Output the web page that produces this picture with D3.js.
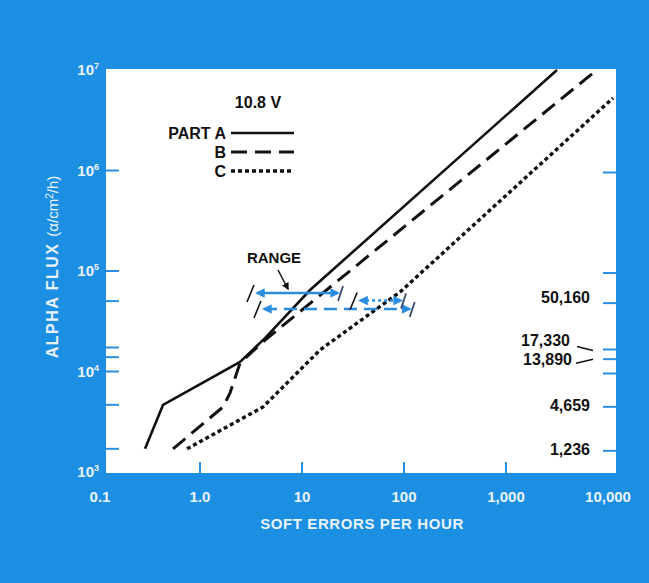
<!DOCTYPE html>
<html>
<head>
<meta charset="utf-8">
<script src="https://cdn.jsdelivr.net/npm/d3@7"></script>
<style>
body{margin:0;background:#1c8fe3;}
svg{display:block;font-family:"Liberation Sans",Arial,sans-serif;font-weight:bold;}
</style>
</head>
<body>
<svg id="chart" width="649" height="583"></svg>
<script>
// x axis (soft errors per hour, log)
var xTickValues = [0.1, 1, 10, 100, 1000, 10000];
var xTickLabels = ["0.1", "1.0", "10", "100", "1,000", "10,000"];
var xMarkValues = [1, 10, 100, 1000];

// y axis (alpha flux, log)
var yDecades = [1e3, 1e4, 1e5, 1e6, 1e7];
var yDecadeExp = ["3", "4", "5", "6", "7"];
var yMarkValues = [1e4, 1e5, 1e6, 50160, 17330, 13890, 4659, 1700];
// the "1,236" mark sits at ~1700 in the original drawing
var sideValues = [50160, 17330, 13890, 4659, 1700];
var sideLabels = ["50,160", "17,330", "13,890", "4,659", "1,236"];

// curves: [soft errors/h, flux]
var partA = [[0.289, 1700], [0.434, 4645], [2.47, 12450], [4.34, 21500], [12.0, 64700], [3162, 1e7]];
var partB = [[0.544, 1700], [1.68, 4436], [1.97, 6110], [2.47, 12170], [4.34, 20550], [7130, 9.33e6]];
var partC = [[0.746, 1700], [4.15, 4436], [15.0, 16370], [91.4, 61800], [11200, 5.26e6]];
var partNames = ["PART A", "B", "C"];

// range arrows
var rangeLow = [3.46, 4.05, 35.5];
var rangeHigh = [23.6, 119, 97.9];
var rangeFlux = [60400, 41900, 50800];

var svg = d3.select("#chart");
var plot = {left: 106, right: 616, top: 69, bottom: 473};

var x = d3.scaleLog().domain([0.1, 10000]).range([98, 608]);
var y = d3.scaleLog().domain([1e3, 1e7]).range([472, 70]);

var styles = [
	{dash: null, width: 2.6},
	{dash: "16,8", width: 3},
	{dash: "4,3", width: 3.4}
];

var textLight = "#e9f3fc";
var tickBlue = "#2a8fe2";

svg.append("rect")
	.attr("x", plot.left).attr("y", plot.top)
	.attr("width", plot.right - plot.left).attr("height", plot.bottom - plot.top)
	.attr("fill", "#fff");

svg.append("clipPath").attr("id", "clip")
	.append("rect")
	.attr("x", plot.left).attr("y", plot.top)
	.attr("width", plot.right - plot.left).attr("height", plot.bottom - plot.top);

// ticks on left / right / bottom
svg.append("g").selectAll("line")
	.data(yMarkValues).enter().append("line")
	.attr("x1", plot.left).attr("x2", plot.left + 13)
	.attr("y1", function(d){return y(d);}).attr("y2", function(d){return y(d);})
	.attr("stroke", tickBlue).attr("stroke-width", 2);

svg.append("g").selectAll("line")
	.data(yMarkValues).enter().append("line")
	.attr("x1", plot.right - 13).attr("x2", plot.right)
	.attr("y1", function(d){return y(d) + 2;}).attr("y2", function(d){return y(d) + 2;})
	.attr("stroke", tickBlue).attr("stroke-width", 2);

svg.append("g").selectAll("line")
	.data(xMarkValues).enter().append("line")
	.attr("x1", function(d){return x(d);}).attr("x2", function(d){return x(d);})
	.attr("y1", plot.bottom).attr("y2", plot.bottom - 11)
	.attr("stroke", tickBlue).attr("stroke-width", 2);

// x labels
svg.append("g").selectAll("text")
	.data(xTickValues).enter().append("text")
	.attr("x", function(d){return x(d) + (d == 0.1 ? 2 : 0);})
	.attr("y", 502)
	.attr("text-anchor", "middle")
	.attr("font-size", 15)
	.attr("fill", textLight)
	.text(function(d, i){return xTickLabels[i];});

// y labels 10^n
var yl = svg.append("g").selectAll("text")
	.data(yDecades).enter().append("text")
	.attr("x", 99)
	.attr("y", function(d){return y(d) + 5;})
	.attr("text-anchor", "end")
	.attr("font-size", 15)
	.attr("fill", textLight);
yl.append("tspan").text("10");
yl.append("tspan").attr("font-size", 9).attr("dy", -6).text(function(d, i){return yDecadeExp[i];});

// axis titles
svg.append("text")
	.attr("x", 362).attr("y", 529)
	.attr("text-anchor", "middle")
	.attr("font-size", 15)
	.attr("letter-spacing", 0.6)
	.attr("fill", textLight)
	.text("SOFT ERRORS PER HOUR");

var yt = svg.append("text")
	.attr("transform", "translate(58,267) rotate(-90)")
	.attr("text-anchor", "middle")
	.attr("font-size", 16)
	.attr("fill", textLight);
yt.append("tspan").attr("letter-spacing", 1.5).text("ALPHA FLUX ");
yt.append("tspan").attr("font-weight", "normal").attr("font-size", 15).text(" (α/cm");
yt.append("tspan").attr("font-weight", "normal").attr("font-size", 10).attr("dy", -5).text("2");
yt.append("tspan").attr("font-weight", "normal").attr("font-size", 15).attr("dy", 5).text("/h)");

// right-side value labels
var labelShift = [2, -2, 8, 6, 6];
var labelEnd = [590, 570, 572, 590, 590];
svg.append("g").selectAll("text")
	.data(sideValues).enter().append("text")
	.attr("x", function(d, i){return labelEnd[i];})
	.attr("y", function(d, i){return y(d) + labelShift[i];})
	.attr("text-anchor", "end")
	.attr("font-size", 16)
	.attr("fill", "#111")
	.text(function(d, i){return sideLabels[i];});

svg.append("line")
	.attr("x1", 577).attr("y1", y(17330) - 1)
	.attr("x2", 593).attr("y2", y(17330) + 3)
	.attr("stroke", "#111").attr("stroke-width", 1.6);
svg.append("line")
	.attr("x1", 576).attr("y1", y(13890) + 6)
	.attr("x2", 593).attr("y2", y(13890) + 2)
	.attr("stroke", "#111").attr("stroke-width", 1.6);

// curves
var line = d3.line()
	.x(function(d){return x(d[0]);})
	.y(function(d){return y(d[1]);});

svg.append("g").attr("clip-path", "url(#clip)")
	.selectAll("path")
	.data([partA, partB, partC]).enter().append("path")
	.attr("d", line)
	.attr("fill", "none")
	.attr("stroke", "#111")
	.attr("stroke-width", function(d, i){return styles[i].width;})
	.attr("stroke-dasharray", function(d, i){return styles[i].dash;});

// legend
svg.append("text")
	.attr("x", 258).attr("y", 108)
	.attr("text-anchor", "middle")
	.attr("font-size", 16)
	.attr("fill", "#111")
	.text("10.8 V");

var leg = svg.append("g").selectAll("g")
	.data(partNames).enter().append("g")
	.attr("transform", function(d, i){return "translate(0," + (133 + i * 19) + ")";});
leg.append("text")
	.attr("x", 226).attr("y", 6)
	.attr("text-anchor", "end")
	.attr("font-size", 16)
	.attr("fill", "#111")
	.text(function(d){return d;});
leg.append("line")
	.attr("x1", 231).attr("x2", 294)
	.attr("stroke", "#111")
	.attr("stroke-width", function(d, i){return styles[i].width;})
	.attr("stroke-dasharray", function(d, i){return styles[i].dash;});

// range arrows
var rangeBlue = "#2b8de0";
svg.append("defs").selectAll("marker")
	.data(["arrowR", "arrowL"]).enter().append("marker")
	.attr("id", function(d){return d;})
	.attr("viewBox", "0 0 10 10")
	.attr("refX", 8).attr("refY", 5)
	.attr("markerWidth", 4).attr("markerHeight", 4)
	.attr("markerUnits", "strokeWidth")
	.attr("orient", "auto-start-reverse")
	.append("path")
	.attr("d", "M0,0 L10,5 L0,10 z")
	.attr("fill", rangeBlue);

svg.append("defs").append("marker")
	.attr("id", "arrowK")
	.attr("viewBox", "0 0 10 10")
	.attr("refX", 8).attr("refY", 5)
	.attr("markerWidth", 5).attr("markerHeight", 5)
	.attr("markerUnits", "strokeWidth")
	.attr("orient", "auto")
	.append("path")
	.attr("d", "M0,0 L10,5 L0,10 z")
	.attr("fill", "#111");

var rg = svg.append("g").selectAll("g")
	.data(rangeLow).enter().append("g");
rg.append("line")
	.attr("x1", function(d, i){return x(rangeLow[i]) + 2;})
	.attr("x2", function(d, i){return x(rangeHigh[i]) - 2;})
	.attr("y1", function(d, i){return y(rangeFlux[i]);})
	.attr("y2", function(d, i){return y(rangeFlux[i]);})
	.attr("stroke", rangeBlue)
	.attr("stroke-width", 2.4)
	.attr("stroke-dasharray", function(d, i){return i == 0 ? null : (i == 1 ? "13,7" : "3,3");})
	.attr("marker-start", "url(#arrowL)")
	.attr("marker-end", "url(#arrowR)");
rg.append("line")
	.attr("x1", function(d, i){return x(rangeLow[i]) - 8;})
	.attr("x2", function(d, i){return x(rangeLow[i]) - 1;})
	.attr("y1", function(d, i){return y(rangeFlux[i]) + 9;})
	.attr("y2", function(d, i){return y(rangeFlux[i]) - 8;})
	.attr("stroke", "#111").attr("stroke-width", 1.6);
rg.append("line")
	.attr("x1", function(d, i){return x(rangeHigh[i]) - 2;})
	.attr("x2", function(d, i){return x(rangeHigh[i]) + 3;})
	.attr("y1", function(d, i){return y(rangeFlux[i]) + 8;})
	.attr("y2", function(d, i){return y(rangeFlux[i]) - 7;})
	.attr("stroke", "#334a66").attr("stroke-width", 1.8);

// RANGE callout
svg.append("text")
	.attr("x", 274).attr("y", 263)
	.attr("text-anchor", "middle")
	.attr("font-size", 15)
	.attr("fill", "#111")
	.text("RANGE");
svg.append("line")
	.attr("x1", 278).attr("y1", 270)
	.attr("x2", 288).attr("y2", 289)
	.attr("stroke", "#111").attr("stroke-width", 1.5)
	.attr("marker-end", "url(#arrowK)");
</script>
</body>
</html>
